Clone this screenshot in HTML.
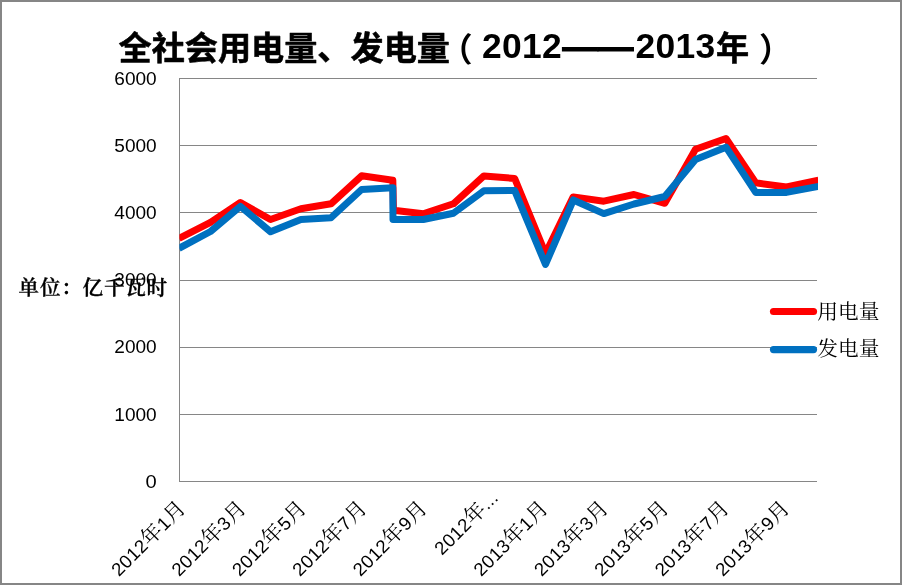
<!DOCTYPE html>
<html lang="zh-CN">
<head>
<meta charset="utf-8">
<title>全社会用电量、发电量（2012——2013年）</title>
<style>
html,body{margin:0;padding:0;background:#fff;}
body{width:902px;height:585px;overflow:hidden;}
svg{display:block;}
.ax{font-family:"Liberation Sans","Noto Serif CJK SC",sans-serif;font-size:18.6px;fill:#000;}
.xl{font-family:"Liberation Sans","Noto Serif CJK SC",serif;font-size:18.6px;fill:#000;}
.xl .c{font-family:"Noto Serif CJK SC","Liberation Serif",serif;font-size:21px;font-weight:400;}
.ttl{font-family:"Liberation Sans","Noto Sans CJK SC",sans-serif;font-weight:700;font-size:33.15px;fill:#000;}
.ttl .c{font-family:"Noto Sans CJK SC","Liberation Sans",sans-serif;}
.ttl .b{stroke:#000;stroke-width:0.55px;stroke-linejoin:round;}
.ttl .d{font-size:35.4px;}
.ttl .e{font-family:"Liberation Sans",sans-serif;font-size:35.4px;}
.lg{font-family:"Noto Serif CJK SC","Liberation Serif",serif;font-size:20.7px;font-weight:400;fill:#000;}
.unit{font-family:"Noto Serif CJK SC","Liberation Serif",serif;font-size:20.6px;font-weight:600;fill:#000;}
</style>
</head>
<body>
<svg width="902" height="585" viewBox="0 0 902 585">
<rect x="0" y="0" width="902" height="585" fill="#fff"/>
<rect x="1" y="1" width="900" height="583" fill="none" stroke="#868686" stroke-width="2"/>

<g stroke="#868686" stroke-width="1" shape-rendering="crispEdges">
<line x1="179" y1="481.5" x2="817" y2="481.5"/>
<line x1="179" y1="414.5" x2="817" y2="414.5"/>
<line x1="179" y1="347.5" x2="817" y2="347.5"/>
<line x1="179" y1="280.5" x2="817" y2="280.5"/>
<line x1="179" y1="212.5" x2="817" y2="212.5"/>
<line x1="179" y1="145.5" x2="817" y2="145.5"/>
<line x1="179" y1="78.5" x2="817" y2="78.5"/>
<line x1="179.5" y1="78" x2="179.5" y2="482"/>
</g>
<g class="ax" text-anchor="end">
<text x="156.7" y="488.0" textLength="11.2" lengthAdjust="spacingAndGlyphs">0</text>
<text x="156.7" y="421.0" textLength="42.4" lengthAdjust="spacingAndGlyphs">1000</text>
<text x="156.7" y="353.0" textLength="42.4" lengthAdjust="spacingAndGlyphs">2000</text>
<text x="156.7" y="286.0" textLength="42.4" lengthAdjust="spacingAndGlyphs">3000</text>
<text x="156.7" y="219.0" textLength="42.4" lengthAdjust="spacingAndGlyphs">4000</text>
<text x="156.7" y="152.0" textLength="42.4" lengthAdjust="spacingAndGlyphs">5000</text>
<text x="156.7" y="85.0" textLength="42.4" lengthAdjust="spacingAndGlyphs">6000</text>
</g>
<text class="unit" x="18.6" y="294.6" letter-spacing="0.73" stroke="#000" stroke-width="0.3">单位：亿千瓦时</text>
<clipPath id="plot"><rect x="179.4" y="70" width="638.6" height="420"/></clipPath>
<g clip-path="url(#plot)" fill="none" stroke-width="7" stroke-linejoin="round" stroke-linecap="butt">
<polyline stroke="#ff0000" points="179.0,238.5 210.5,222.3 240.4,202.5 270.5,219.5 300.9,208.8 331.0,203.8 361.6,175.8 392.8,180.3 393.5,210.2 423.2,213.8 453.4,203.8 483.9,175.9 514.7,178.5 545.5,253.6 573.2,196.9 603.8,201.2 634.0,194.5 664.8,203.3 695.5,149.3 726.0,138.5 755.7,182.8 786.5,187.0 818.5,180.3"/>
<polyline stroke="#0070c0" points="179.0,248.3 210.5,231.5 240.4,206.4 270.5,231.7 300.9,219.5 331.0,217.8 361.6,189.5 392.8,187.7 393.0,219.5 423.2,219.5 453.4,213.2 483.9,190.7 514.7,190.6 545.5,264.4 573.3,200.0 603.8,213.6 634.0,204.0 664.8,196.5 695.5,159.4 726.0,147.2 755.7,192.4 786.5,192.4 818.5,186.4"/>
</g>
<g class="xl" text-anchor="end">
<text transform="translate(181.9,503.8) rotate(-45)" y="7.4" letter-spacing="0.4">2012<tspan class="c">年</tspan>1<tspan class="c">月</tspan></text>
<text transform="translate(242.3,503.8) rotate(-45)" y="7.4" letter-spacing="0.4">2012<tspan class="c">年</tspan>3<tspan class="c">月</tspan></text>
<text transform="translate(302.7,503.8) rotate(-45)" y="7.4" letter-spacing="0.4">2012<tspan class="c">年</tspan>5<tspan class="c">月</tspan></text>
<text transform="translate(363.1,503.8) rotate(-45)" y="7.4" letter-spacing="0.4">2012<tspan class="c">年</tspan>7<tspan class="c">月</tspan></text>
<text transform="translate(423.5,503.8) rotate(-45)" y="7.4" letter-spacing="0.4">2012<tspan class="c">年</tspan>9<tspan class="c">月</tspan></text>
<text transform="translate(494.2,493.5) rotate(-45)" y="7.4" letter-spacing="0.4">2012<tspan class="c">年</tspan>...</text>
<text transform="translate(544.3,503.8) rotate(-45)" y="7.4" letter-spacing="0.4">2013<tspan class="c">年</tspan>1<tspan class="c">月</tspan></text>
<text transform="translate(604.7,503.8) rotate(-45)" y="7.4" letter-spacing="0.4">2013<tspan class="c">年</tspan>3<tspan class="c">月</tspan></text>
<text transform="translate(665.1,503.8) rotate(-45)" y="7.4" letter-spacing="0.4">2013<tspan class="c">年</tspan>5<tspan class="c">月</tspan></text>
<text transform="translate(725.5,503.8) rotate(-45)" y="7.4" letter-spacing="0.4">2013<tspan class="c">年</tspan>7<tspan class="c">月</tspan></text>
<text transform="translate(785.9,503.8) rotate(-45)" y="7.4" letter-spacing="0.4">2013<tspan class="c">年</tspan>9<tspan class="c">月</tspan></text>
</g>
<g fill="none" stroke-width="7.2" stroke-linecap="round">
<line x1="773.5" y1="311.5" x2="813.5" y2="311.5" stroke="#ff0000"/>
<line x1="773.5" y1="349.6" x2="813.5" y2="349.6" stroke="#0070c0"/>
</g>
<text class="lg" x="817.3" y="318.6">用电量</text>
<text class="lg" x="817.3" y="356.3">发电量</text>
<text class="ttl" y="60"><tspan class="c b" x="118.5">全社会用电量、发电量</tspan><tspan class="c" x="439.4" y="60.8">（</tspan><tspan class="d" x="482" y="58.4" letter-spacing="0.3">2012</tspan><tspan class="e" x="562.6" y="59" stroke="#000" stroke-width="1.2" textLength="70.8" lengthAdjust="spacingAndGlyphs">——</tspan><tspan class="d" x="635.5" y="58.4" letter-spacing="0.3">2013</tspan><tspan class="c b" x="716" y="60">年</tspan><tspan class="c" x="759" y="60.8">）</tspan></text>
</svg>
</body>
</html>
